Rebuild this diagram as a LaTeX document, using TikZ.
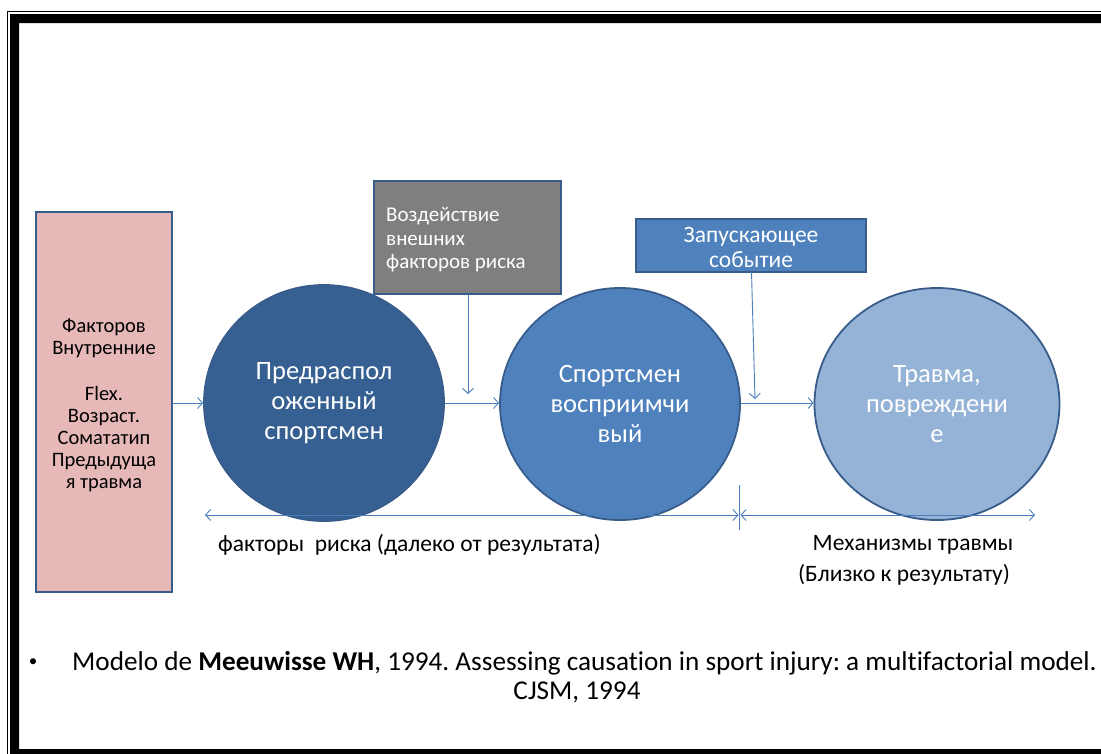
\documentclass[tikz,border=0pt]{standalone}
\usepackage{fontspec}
\setmainfont{Carlito}[Ligatures=NoCommon]
\usetikzlibrary{shapes.geometric,arrows.meta}
\definecolor{pinkfill}{HTML}{E6B9B8}
\definecolor{edgeblue}{HTML}{385D8A}
\definecolor{darkblue}{HTML}{376092}
\definecolor{midblue}{HTML}{4F81BD}
\definecolor{lightblue}{HTML}{95B3D7}
\definecolor{grayfill}{HTML}{7F7F7F}
\definecolor{arrowblue}{HTML}{4A7EBB}
\frenchspacing
\tikzset{
  boxstyle/.style={draw=edgeblue, line width=1.8pt, rectangle, inner sep=0pt},
  circ/.style={draw=edgeblue, line width=1.8pt, ellipse, inner sep=0pt, text=white, align=center, font=\fontsize{26.5}{30}\selectfont},
  conn/.style={draw=arrowblue, line width=0.9pt, -{Straight Barb[length=5pt,width=11pt]}},
  dconn/.style={draw=arrowblue, line width=0.9pt, {Straight Barb[length=5pt,width=11pt]}-{Straight Barb[length=5pt,width=11pt]}},
  lbl/.style={inner sep=0pt, font=\fontsize{23.5}{30}\selectfont},
  citestyle/.style={inner sep=0pt, font=\fontsize{27.2}{29}\selectfont}
}
\begin{document}
\begin{tikzpicture}[x=1pt,y=-1pt]
\useasboundingbox (0,0) rectangle (1101,753);
\fill[white] (0,0) rectangle (1101,753);
% frame
\draw[line width=1.3pt] (7.5,11.5) rectangle (1120,770);
\fill[black,even odd rule] (10,14) rectangle (1120,770) (19,23) rectangle (1120,749);
% pink box
\node[boxstyle, fill=pinkfill, minimum width=136pt, minimum height=380pt] (pink) at (104,402) {};
\node[inner sep=0pt, align=center, font=\fontsize{20.5}{22}\selectfont] (pinktxt) at (104,405)
  {Факторов\\Внутренние\\[24pt]Flex.\\Возраст.\\Сомататип\\Предыдуща\\я травма};
% circles
\node[circ, fill=darkblue, minimum width=240pt, minimum height=236pt] (c1) at (324,403) {Предраспол\\оженный\\спортсмен};
\node[circ, fill=midblue, minimum width=240pt, minimum height=232pt] (c2) at (620,404) {Спортсмен\\восприимчи\\вый};
\node[circ, fill=lightblue, minimum width=245pt, minimum height=232pt] (c3) at (937,404) {Травма,\\повреждени\\е};
% gray box
\node[boxstyle, fill=grayfill, minimum width=187pt, minimum height=113pt] (gray) at (467.5,237.5) {};
\node[anchor=west, inner sep=0pt, text=white, align=left, font=\fontsize{21}{23.5}\selectfont] (graytxt) at (386,240) {Воздействие\\внешних\\факторов риска};
% blue box
\node[boxstyle, fill=midblue, minimum width=230pt, minimum height=53pt] (trig) at (751,245.5) {};
\node[inner sep=0pt, text=white, align=center, font=\fontsize{23.5}{25}\selectfont] (trigtxt) at (751,247) {Запускающее\\событие};
% connectors
\draw[conn] (pink.east |- 0,403) -- (c1.west |- 0,403);
\draw[conn] (c1.east |- 0,403) -- (c2.west |- 0,403);
\draw[conn] (c2.east |- 0,403) -- (c3.west |- 0,403);
\coordinate (gdown) at (468,394);
\draw[conn] (gray.south -| gdown) -- (gdown);
\coordinate (tdown) at (755,399);
\coordinate (ttop) at (751.5,272);
\draw[conn] (ttop) -- (tdown);
% bottom spans
\coordinate (sa) at (205,515);
\coordinate (sb) at (738.5,515);
\coordinate (sc) at (740.5,515);
\coordinate (sd) at (1035,515);
\coordinate (tk1) at (739.5,485);
\coordinate (tk2) at (739.5,530);
\draw[dconn] (sa) -- (sb);
\draw[dconn] (sc) -- (sd);
\draw[draw=arrowblue, line width=0.9pt] (tk1) -- (tk2);
\node[lbl, anchor=west] (l1) at (218,545) {факторы\ \ риска (далеко от результата)};
\node[lbl] (l2) at (913,545) {Механизмы травмы};
\node[lbl] (l3) at (904,575) {(Близко к результату)};
% citation
\node[inner sep=0pt, font=\fontsize{17}{20}\selectfont] (bul) at (33,663) {•};
\node[citestyle, anchor=west] (cit) at (72,663) {Modelo de \textbf{Meeuwisse WH}, 1994. Assessing causation in sport injury: a multifactorial model.};
\node[citestyle] (cit2) at (577,692) {CJSM, 1994};
\end{tikzpicture}
\end{document}
